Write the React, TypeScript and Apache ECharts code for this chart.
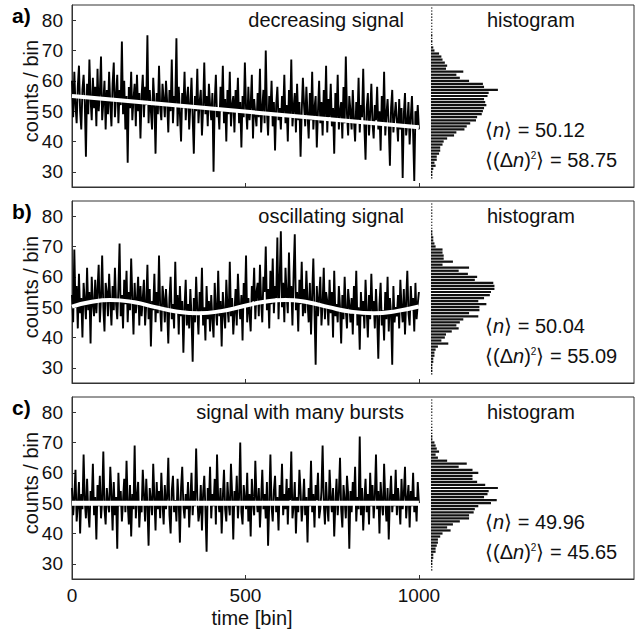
import React, { useEffect, useRef } from 'react';
import * as echarts from 'echarts';

// ---------- text ----------
const PANEL_LETTERS = ['a)', 'b)', 'c)'];
const SIGNAL_TITLES = ['decreasing signal', 'oscillating signal', 'signal with many bursts'];
const HIST_TITLE = 'histogram';
const MEAN_VALUES = ['50.12', '50.04', '49.96'];
const VAR_VALUES = ['58.75', '55.09', '45.65'];
const X_AXIS_NAME = 'time [bin]';
const Y_AXIS_NAME = 'counts / bin';
const X_TICKS = [0, 500, 1000];
const Y_TICKS = [30, 40, 50, 60, 70, 80];

// ---------- signals (counts per bin, sampled along time 0..1000) ----------
const SIGNAL_A = [
  60, 48, 63, 52, 46, 58, 65, 50, 44, 57, 62, 53, 35, 59, 49, 67, 54, 47, 61, 51,
  58, 45, 64, 50, 56, 68, 47, 53, 60, 44, 57, 49, 63, 52, 45, 59, 66, 48, 55, 62,
  46, 57, 52, 73, 49, 60, 44, 55, 33, 58, 51, 63, 47, 54, 59, 45, 62, 50, 56, 41,
  55, 62, 48, 58, 52, 75, 46, 57, 50, 44, 61, 53, 36, 56, 49, 65, 51, 47, 59, 54,
  48, 60, 53, 43, 57, 50, 67, 46, 55, 52, 74, 45, 58, 49, 40, 56, 51, 63, 47, 54,
  58, 44, 52, 61, 48, 36, 55, 50, 64, 46, 53, 57, 42, 51, 66, 49, 55, 45, 59, 52,
  47, 56, 30, 53, 62, 48, 51, 44, 58, 50, 65, 46, 54, 40, 57, 49, 63, 45, 52, 55,
  43, 57, 50, 61, 46, 53, 38, 55, 48, 66, 51, 44, 58, 47, 52, 62, 41, 54, 49, 45,
  56, 48, 64, 43, 51, 57, 46, 70, 50, 42, 55, 49, 60, 45, 53, 37, 52, 58, 47, 51,
  44, 55, 49, 62, 46, 52, 40, 57, 48, 67, 45, 51, 56, 43, 59, 47, 53, 35, 50, 61,
  52, 45, 58, 49, 41, 56, 47, 63, 44, 51, 55, 38, 50, 60, 46, 53, 42, 57, 48, 65,
  43, 54, 48, 59, 45, 51, 36, 56, 47, 62, 44, 50, 53, 41, 58, 46, 68, 49, 42, 55,
  50, 44, 57, 47, 40, 53, 46, 61, 43, 52, 48, 64, 45, 34, 51, 56, 42, 49, 59, 46,
  41, 52, 47, 58, 44, 50, 37, 55, 46, 63, 42, 49, 54, 45, 32, 51, 57, 43, 48, 53,
  47, 40, 54, 44, 51, 28, 49, 56, 42, 46, 53, 39, 48, 55, 43, 27, 50, 45, 52, 44,
];
const SIGNAL_B = [
  54, 45, 69, 50, 57, 43, 61, 48, 53, 40, 58, 52, 46, 63, 49, 55, 38, 60, 51, 47,
  59, 48, 56, 64, 45, 53, 67, 50, 42, 58, 55, 47, 61, 52, 44, 57, 49, 63, 51, 46,
  56, 71, 47, 54, 43, 59, 51, 62, 45, 55, 49, 66, 53, 41, 58, 48, 52, 60, 44, 57,
  47, 53, 59, 44, 51, 64, 46, 56, 37, 52, 49, 61, 45, 55, 48, 67, 50, 42, 57, 53,
  45, 56, 49, 38, 53, 60, 46, 51, 43, 65, 48, 54, 41, 57, 47, 52, 35, 50, 59, 44,
  51, 43, 56, 47, 32, 53, 45, 60, 49, 41, 55, 48, 63, 44, 50, 39, 57, 46, 52, 42,
  54, 46, 40, 58, 49, 44, 62, 47, 52, 37, 55, 48, 43, 59, 50, 45, 65, 47, 53, 41,
  48, 56, 44, 61, 51, 46, 54, 39, 58, 50, 67, 45, 53, 48, 42, 57, 52, 63, 46, 55,
  58, 47, 64, 52, 45, 60, 55, 70, 49, 56, 43, 62, 51, 66, 48, 57, 53, 73, 46, 59,
  75, 50, 58, 45, 63, 54, 48, 68, 52, 57, 44, 61, 74, 49, 55, 42, 59, 51, 65, 47,
  56, 48, 62, 52, 45, 58, 41, 54, 66, 49, 31, 57, 47, 53, 60, 44, 51, 63, 46, 55,
  52, 44, 59, 48, 55, 40, 62, 47, 51, 45, 57, 50, 38, 54, 46, 60, 49, 43, 56, 51,
  45, 53, 41, 57, 48, 62, 44, 50, 36, 55, 47, 52, 43, 59, 49, 40, 54, 46, 61, 48,
  52, 43, 56, 47, 33, 51, 58, 44, 49, 39, 55, 46, 60, 42, 53, 48, 31, 57, 45, 50,
  47, 54, 43, 59, 50, 45, 56, 41, 52, 62, 48, 44, 57, 49, 53, 42, 58, 46, 51, 55,
];
const SIGNAL_C = [
  55, 46, 52, 61, 44, 49, 57, 40, 53, 48, 66, 51, 45, 58, 47, 42, 54, 50, 63, 46,
  52, 38, 56, 49, 59, 45, 51, 67, 48, 43, 55, 50, 47, 62, 53, 41, 57, 46, 52, 35,
  60, 49, 54, 44, 51, 58, 47, 64, 50, 43, 56, 39, 53, 48, 69, 45, 52, 57, 42, 50,
  47, 61, 53, 44, 58, 49, 36, 55, 51, 46, 63, 52, 41, 57, 48, 54, 45, 60, 50, 43,
  56, 48, 52, 65, 46, 40, 54, 59, 47, 51, 44, 58, 50, 37, 55, 62, 49, 45, 53, 48,
  57, 42, 51, 60, 46, 54, 49, 68, 52, 44, 47, 56, 41, 53, 59, 48, 34, 55, 50, 62,
  45, 53, 49, 58, 43, 66, 51, 47, 55, 40, 52, 61, 48, 44, 57, 50, 46, 63, 53, 38,
  54, 49, 59, 45, 52, 70, 47, 43, 56, 51, 48, 60, 44, 53, 39, 58, 50, 46, 64, 52,
  47, 55, 42, 51, 61, 48, 53, 45, 57, 36, 50, 66, 49, 44, 54, 59, 47, 52, 41, 56,
  50, 63, 46, 53, 48, 58, 43, 55, 51, 67, 45, 49, 57, 40, 52, 47, 61, 54, 44, 50,
  58, 46, 52, 37, 55, 49, 64, 47, 53, 42, 56, 51, 60, 45, 48, 54, 69, 50, 43, 57,
  49, 44, 61, 52, 47, 55, 39, 50, 58, 46, 53, 65, 48, 42, 56, 51, 45, 59, 53, 35,
  54, 47, 57, 50, 62, 44, 52, 48, 72, 46, 55, 41, 51, 58, 47, 53, 43, 60, 49, 56,
  45, 52, 66, 48, 54, 40, 57, 50, 46, 63, 51, 44, 55, 38, 52, 59, 47, 53, 49, 61,
  46, 55, 50, 43, 58, 48, 53, 62, 45, 51, 56, 42, 54, 49, 60, 47, 52, 44, 57, 50,
];
const SIGNAL_SPAN = 1000; // time range covered by the signal samples

// ---------- white guide lines ----------
const TREND_A_X = [0, 1000];
const TREND_A_Y = [55.0, 44.7];
const TREND_B_X = [0, 50, 110, 180, 240, 300, 365, 430, 490, 550, 615, 680, 740, 800, 870, 935, 1000];
const TREND_B_Y = [50.2, 51.6, 52.4, 51.6, 50.0, 48.6, 48.0, 48.7, 50.2, 51.7, 52.4, 51.6, 50.0, 48.6, 48.0, 48.7, 50.2];
const TREND_C_X = [0, 1000];
const TREND_C_Y = [49.96, 49.96];

// ---------- histograms (bins 28..84, counts) ----------
const HIST_BINS = [
  28, 29, 30, 31, 32, 33, 34, 35, 36, 37, 38, 39, 40, 41, 42, 43, 44, 45, 46, 47,
  48, 49, 50, 51, 52, 53, 54, 55, 56, 57, 58, 59, 60, 61, 62, 63, 64, 65, 66, 67,
  68, 69, 70, 71, 72, 73, 74, 75, 76, 77, 78, 79, 80, 81, 82, 83, 84,
];
const HIST_A = [
  0, 1, 1, 2, 4, 3, 5, 5, 7, 8, 8, 10, 11, 14, 20, 22, 29, 31, 34, 39,
  40, 44, 45, 46, 48, 47, 46, 49, 50, 58, 46, 45, 33, 25, 22, 28, 13, 14, 12, 10,
  9, 7, 3, 2, 0, 1, 0, 1, 0, 0, 0, 0, 0, 0, 0, 0, 0,
];
const HIST_B = [
  0, 1, 1, 1, 2, 2, 3, 3, 4, 6, 15, 9, 12, 13, 18, 24, 22, 25, 28, 41,
  33, 42, 42, 48, 41, 46, 51, 52, 55, 55, 54, 38, 40, 32, 24, 33, 10, 19, 11, 11,
  10, 10, 4, 3, 2, 2, 1, 1, 0, 0, 0, 0, 0, 0, 0, 0, 0,
];
const HIST_C = [
  0, 0, 1, 1, 2, 2, 4, 4, 5, 6, 6, 8, 10, 17, 14, 19, 25, 33, 33, 37,
  38, 41, 52, 57, 46, 49, 50, 58, 47, 40, 36, 36, 41, 36, 24, 31, 14, 6, 4, 7,
  5, 4, 3, 1, 1, 0, 0, 0, 0, 0, 0, 0, 0, 0, 0, 0, 0,
];

const SIGNALS = [SIGNAL_A, SIGNAL_B, SIGNAL_C];
const TRENDS = [
  [TREND_A_X, TREND_A_Y],
  [TREND_B_X, TREND_B_Y],
  [TREND_C_X, TREND_C_Y],
];
const HISTS = [HIST_A, HIST_B, HIST_C];

// ---------- layout ----------
const W = 636;
const H = 634;
const PANEL_TOPS = [5, 201, 397];
const PANEL_H = 182;
const PLOT_LEFT = 72;
const PLOT_RIGHT_GAP = 2;
const HIST_LEFT = 431;
const X_MAX = 1620;
const HIST_X_MAX = 176;
const FONT = '"Liberation Sans", Arial, Helvetica, sans-serif';
const FRAME = '#333';

const renderHist = (_params: any, api: any) => {
  const bin = api.value(0);
  const count = api.value(1);
  const start = api.coord([0, bin]);
  const end = api.coord([count, bin]);
  const unit = Math.abs(api.size([0, 1])[1]);
  const h = count > 0 ? unit * 0.74 : 1.1;
  const w = Math.max(end[0] - start[0], 1.4);
  return {
    type: 'rect',
    shape: { x: start[0], y: start[1] - h / 2, width: w, height: h },
    style: { fill: '#111' },
  };
};

function buildOption() {
  const grid: any[] = [];
  const xAxis: any[] = [];
  const yAxis: any[] = [];
  const series: any[] = [];
  const graphic: any[] = [];

  PANEL_TOPS.forEach((top, i) => {
    const gMain = i * 2;
    const gHist = i * 2 + 1;
    grid.push({
      left: PLOT_LEFT, right: PLOT_RIGHT_GAP, top, height: PANEL_H,
      show: true, borderColor: FRAME, borderWidth: 1, backgroundColor: 'transparent',
    });
    grid.push({ left: HIST_LEFT, right: PLOT_RIGHT_GAP, top, height: PANEL_H });

    xAxis.push({
      gridIndex: gMain, type: 'value', min: 0, max: X_MAX,
      axisLine: { show: true, lineStyle: { color: FRAME, width: 1 } },
      axisTick: { show: true, inside: true, length: 4, customValues: X_TICKS, lineStyle: { color: FRAME } },
      axisLabel: {
        show: i === 2, customValues: X_TICKS, fontSize: 19, color: '#111', margin: 7, fontFamily: FONT,
        formatter: (v: number) => String(v),
      },
      splitLine: { show: false },
    });
    xAxis.push({ gridIndex: gHist, type: 'value', min: 0, max: HIST_X_MAX, show: false });

    yAxis.push({
      gridIndex: gMain, type: 'value', min: 25, max: 85,
      axisLine: { show: true, lineStyle: { color: FRAME, width: 1 } },
      axisTick: { show: true, inside: true, length: 4, customValues: Y_TICKS, lineStyle: { color: FRAME } },
      axisLabel: {
        customValues: Y_TICKS, fontSize: 19, color: '#111', margin: 9, fontFamily: FONT,
        formatter: (v: number) => String(v),
      },
      splitLine: { show: false },
    });
    yAxis.push({ gridIndex: gHist, type: 'value', min: 25, max: 85, show: false });

    const sig = SIGNALS[i];
    const step = SIGNAL_SPAN / (sig.length - 1);
    series.push({
      type: 'line', xAxisIndex: gMain, yAxisIndex: gMain,
      data: sig.map((v, k) => [k * step, v]),
      showSymbol: false, symbol: 'none', silent: true, clip: true,
      lineStyle: { color: '#000', width: 1.9 }, z: 2,
    });
    const [tx, ty] = TRENDS[i];
    series.push({
      type: 'line', xAxisIndex: gMain, yAxisIndex: gMain,
      data: tx.map((x, k) => [x, ty[k]]),
      smooth: i === 1, showSymbol: false, symbol: 'none', silent: true,
      lineStyle: { color: '#fff', width: i === 2 ? 5 : 4 }, z: 3,
    });
    series.push({
      type: 'custom', xAxisIndex: gHist, yAxisIndex: gHist,
      data: HIST_BINS.map((b, k) => [b, HISTS[i][k]]),
      encode: { x: 1, y: 0 }, renderItem: renderHist, silent: true, z: 2,
    });

    const txt = (x: number, y: number, text: string, extra: any = {}) => ({
      type: 'text', x, y, z: 10, silent: true,
      style: {
        text, fill: '#111', font: `20px ${FONT}`,
        align: 'left', textAlign: 'left', verticalAlign: 'middle', textVerticalAlign: 'middle',
        ...extra,
      },
    });

    graphic.push(txt(12, top + 10, PANEL_LETTERS[i], { font: `bold 21px ${FONT}`, fill: '#000' }));
    graphic.push(txt(404, top + 15, SIGNAL_TITLES[i], { align: 'right', textAlign: 'right' }));
    graphic.push(txt(487, top + 15, HIST_TITLE));

    const rich = {
      r: { fontSize: 20, fontFamily: FONT, fill: '#111', color: '#111' },
      i: { fontSize: 20, fontFamily: FONT, fontStyle: 'italic', fill: '#111', color: '#111' },
      s: { fontSize: 10, fontFamily: FONT, fill: '#111', color: '#111', verticalAlign: 'top' },
    };
    graphic.push(txt(485, top + 125, `{r|⟨}{i|n}{r|⟩ = ${MEAN_VALUES[i]}}`, { rich }));
    graphic.push(txt(485, top + 155, `{r|⟨(Δ}{i|n}{r|)}{s|2}{r|⟩ = ${VAR_VALUES[i]}}`, { rich }));

    graphic.push({
      type: 'text', x: 31, y: top + 86, rotation: Math.PI / 2, z: 10, silent: true,
      style: {
        text: Y_AXIS_NAME, fill: '#111', font: `20px ${FONT}`,
        align: 'center', textAlign: 'center', verticalAlign: 'middle', textVerticalAlign: 'middle',
      },
    });
  });

  graphic.push({
    type: 'text', x: 252, y: 618, z: 10, silent: true,
    style: {
      text: X_AXIS_NAME, fill: '#111', font: `20px ${FONT}`,
      align: 'center', textAlign: 'center', verticalAlign: 'middle', textVerticalAlign: 'middle',
    },
  });

  return {
    animation: false,
    backgroundColor: '#fff',
    textStyle: { fontFamily: FONT },
    grid, xAxis, yAxis, series, graphic,
  };
}

export default function App() {
  const ref = useRef<HTMLDivElement>(null);
  useEffect(() => {
    if (!ref.current) return;
    const chart = echarts.init(ref.current, null, { renderer: 'svg' });
    chart.setOption(buildOption() as any);
    return () => chart.dispose();
  }, []);
  return (
    <div
      ref={ref}
      style={{ position: 'fixed', left: 0, top: 0, width: W, height: H, background: '#fff' }}
    />
  );
}
